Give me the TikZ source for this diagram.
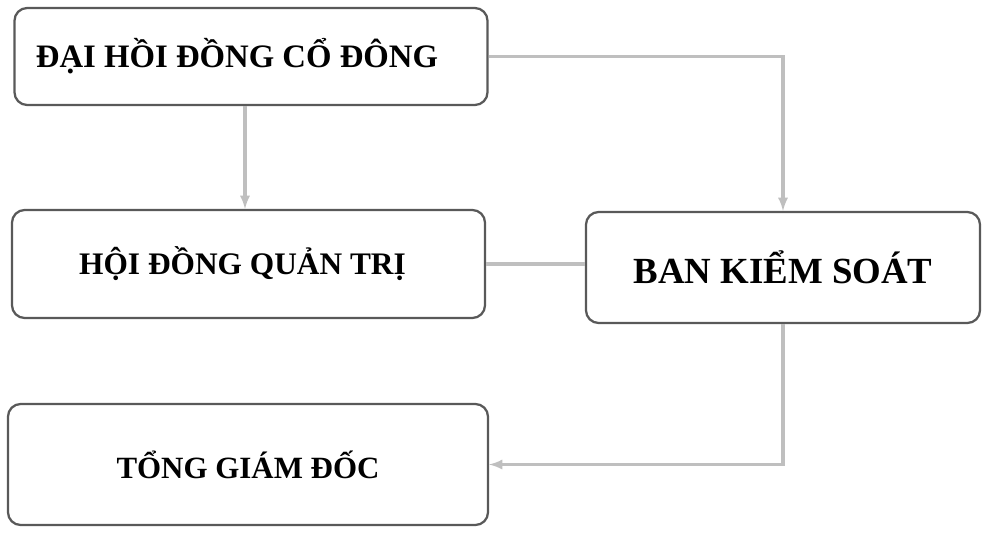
\documentclass[tikz,border=0pt]{standalone}
\usepackage{fontspec}
\setmainfont{Liberation Serif}
\usetikzlibrary{positioning,arrows,calc}
\tikzset{every picture/.style={>=latex,thick}}
\tikzset{orgbox/.style={draw=black!65,line width=1.6pt,rounded corners=9pt,align=center,font=\bfseries}}
\tikzset{link/.style={draw=black!25,line width=2.2pt}}

\begin{document}
\begin{tikzpicture}
      \useasboundingbox (0,0) rectangle (24.6,13.325);
      \node [orgbox,minimum width=11.825cm,minimum height=2.425cm,font=\bfseries\fontsize{23.3}{26}\selectfont] (dhcd) at (6.275,11.9125) {ĐẠI HỒI ĐỒNG CỔ ĐÔNG\hspace{0.7cm}};
      \node [orgbox,minimum width=11.825cm,minimum height=2.7cm,font=\bfseries\fontsize{22.3}{25}\selectfont] (hdqt) at (6.2125,6.725) {HỘI ĐỒNG QUẢN TRỊ\hspace{0.3cm}};
      \node [orgbox,minimum width=9.85cm,minimum height=2.775cm,font=\bfseries\fontsize{26.2}{29}\selectfont] (bks) at (19.575,6.6375) {BAN KIỂM SOÁT};
      \node [orgbox,minimum width=12cm,minimum height=3.025cm,font=\bfseries\fontsize{22}{25}\selectfont] (tgd) at (6.2,1.7125) {TỔNG GIÁM ĐỐC};
      \draw [link,->] (dhcd.east) -| (bks.north);
      \draw [link,->] ([xshift=-0.15cm]dhcd.south) -- ([xshift=-0.15cm]dhcd.south |- hdqt.north);
      \draw [link] (hdqt.east) -- (hdqt.east -| bks.west);
      \draw [link,->] (bks.south) |- (tgd.east);
    \end{tikzpicture}
\end{document}
